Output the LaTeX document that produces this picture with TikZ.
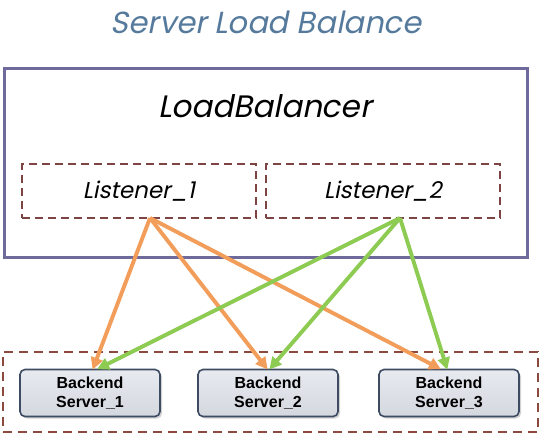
\documentclass[tikz,border=0pt]{standalone}
\usepackage{fontspec}
\setmainfont{Liberation Sans}
\newfontfamily\gothic[FakeSlant=0.2]{Poppins}
\usetikzlibrary{arrows.meta,shadows,positioning,calc}
\definecolor{titleblue}{HTML}{557A9C}
\definecolor{lbframe}{HTML}{6E6A9C}
\definecolor{dashred}{HTML}{7E4444}
\definecolor{orng}{HTML}{F29D5A}
\definecolor{grn}{HTML}{8DCB52}
\definecolor{srvfill}{HTML}{DDE1E9}
\definecolor{srvline}{HTML}{3D4B63}
\tikzset{
  x=1pt, y=-1pt,
  lstbox/.style={draw=dashred, dashed, dash pattern=on 8pt off 5pt, line width=1.3pt, minimum width=234pt, minimum height=54pt, font=\gothic\fontsize{23}{27}\selectfont},
  srvbox/.style={draw=srvline, line width=1.6pt, rounded corners=5pt, top color=srvfill!70!white, bottom color=srvfill!90!gray, minimum width=140pt, minimum height=47pt, align=center, font=\bfseries\fontsize{16}{19}\selectfont, drop shadow={opacity=0.35, shadow xshift=2pt, shadow yshift=-2pt}},
  conn/.style={line width=3.9pt, -{Triangle[length=12pt,width=12pt]}, shorten >=-1pt},
}
\begin{document}
\begin{tikzpicture}
\useasboundingbox (0,0) rectangle (543,434);
\fill[white] (0,0) rectangle (543,434);
\node[font=\gothic\fontsize{30.5}{34}\selectfont, text=titleblue] (title) at (266,22) {Server Load Balance};
\node[draw=lbframe, line width=3pt, minimum width=523pt, minimum height=189pt] (lb) at (265.5,162.5) {};
\node[font=\gothic\fontsize{31}{35}\selectfont] (lbt) at (265,106) {LoadBalancer};
\node[lstbox] (l1) at (139,191) {Listener\_1};
\node[lstbox] (l2) at (383,191) {Listener\_2};
\node[draw=dashred!90!orange, dashed, dash pattern=on 9pt off 6pt, line width=1.6pt, minimum width=535pt, minimum height=80pt] (pool) at (270.5,392) {};
\node[srvbox] (s1) at (90,393) {Backend\\Server\_1};
\node[srvbox] (s2) at (268,393) {Backend\\Server\_2};
\node[srvbox] (s3) at (449,393) {Backend\\Server\_3};
\coordinate (o1) at (150,218);
\coordinate (o2) at (400,218);
\draw[conn, orng] (o1) -- ([xshift=3pt]s1.north);
\draw[conn, orng] (o1) -- ([xshift=-1pt]s2.north);
\draw[conn, orng] (o1) -- ([xshift=-9pt]s3.north);
\draw[conn, grn] (o2) -- ([xshift=8pt]s1.north);
\draw[conn, grn] (o2) -- ([xshift=2pt]s2.north);
\draw[conn, grn] (o2) -- ([xshift=-2pt]s3.north);
\end{tikzpicture}
\end{document}
